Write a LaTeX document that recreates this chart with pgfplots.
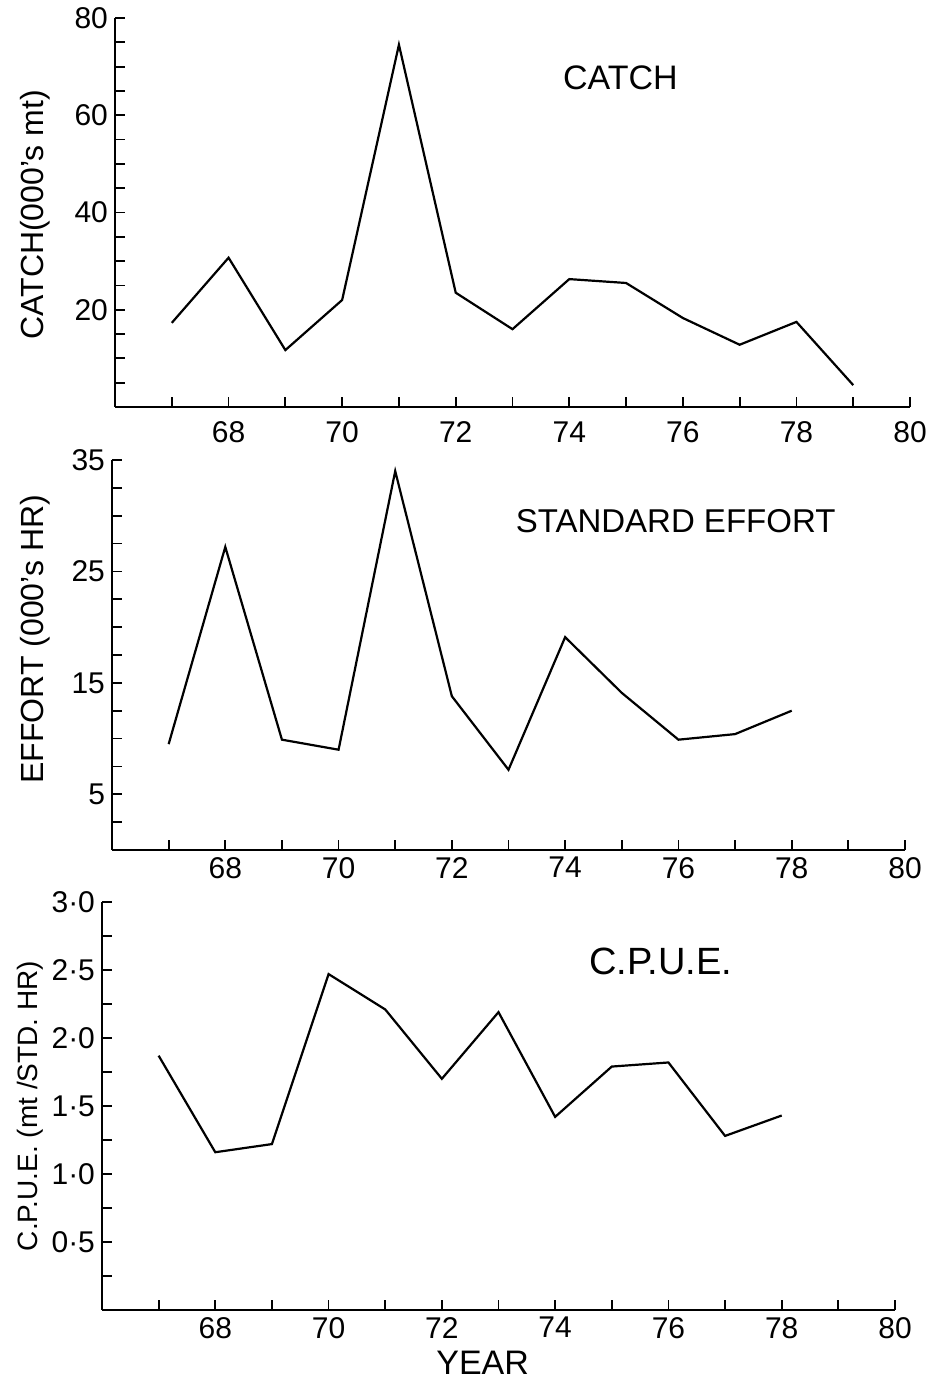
\documentclass[border=0pt]{standalone}
\usepackage{pgfplots}
\pgfplotsset{compat=1.18}
\usepackage{fontspec}
\setmainfont{Liberation Sans}
\pgfplotsset{
  panel/.style={
    scale only axis,
    anchor=south west,
    axis lines=left,
    axis line style={-, line width=1.1pt},
    xmin=66, xmax=80,
    xtick={68,70,...,80},
    minor xtick={67,69,...,79},
    tick align=inside,
    major tick length=5pt,
    minor tick length=5pt,
    every tick/.style={black, line width=0.9pt},
    /pgf/number format/assume math mode=true,
    ticklabel style={font=\fontsize{15}{17}\selectfont},
    label style={font=\fontsize{16}{18}\selectfont},
    clip=false,
  },
  curve/.style={black, line width=1.1pt, mark=none},
}
\begin{document}
\begin{tikzpicture}
\path (0pt,0pt) rectangle (467pt,692.5pt);

% ---- CATCH ----
\begin{axis}[panel,
  at={(57.5pt,489pt)}, width=397.5pt, height=194.5pt,
  ymin=0, ymax=80,
  ytick={20,40,60,80},
  minor ytick={5,10,...,75},
  ylabel={CATCH(000's mt)},
  ylabel style={at={(axis description cs:-0.10,0.494)}, anchor=center, rotate=0},
  xticklabel style={yshift=-4pt},
]
\addplot[curve] coordinates {
(67,17.3) (68,30.7) (69,11.7) (70,22) (71,74.5) (72,23.5) (73,16)
(74,26.3) (75,25.5) (76,18.3) (77,12.8) (78,17.5) (79,4.5)};
\node[font=\fontsize{17}{19}\selectfont] at (axis cs:74.9,67.7) {CATCH};
\end{axis}

% ---- EFFORT ----
\begin{axis}[panel,
  at={(56pt,267.5pt)}, width=396.5pt, height=195pt,
  ymin=0, ymax=35,
  ytick={5,15,25,35},
  minor ytick={2.5,7.5,...,32.5,10,20,30},
  ylabel={EFFORT (000's HR)},
  ylabel style={at={(axis description cs:-0.097,0.54)}, anchor=center, rotate=0},
]
\addplot[curve] coordinates {
(67,9.5) (68,27.2) (69,9.9) (70,9.0) (71,34) (72,13.8) (73,7.2)
(74,19.1) (75,14.1) (76,9.9) (77,10.4) (78,12.5)};
\node[font=\fontsize{16.5}{18}\selectfont] at (axis cs:75.95,29.5) {STANDARD EFFORT};
\end{axis}

% ---- CPUE ----
\begin{axis}[panel,
  at={(51pt,37.5pt)}, width=396.5pt, height=204pt,
  ymin=0, ymax=3.0,
  ytick={0.5,1.0,1.5,2.0,2.5,3.0},
  yticklabels={0·5,1·0,1·5,2·0,2·5,3·0},
  minor ytick={0.25,0.75,...,2.75},
  ylabel={C.P.U.E. (mt /STD. HR)},
  ylabel style={at={(axis description cs:-0.091,0.50)}, anchor=center, rotate=0, font=\fontsize{14}{16}\selectfont},
  xlabel={YEAR},
  xlabel style={at={(axis description cs:0.48,-0.13)}, anchor=center, font=\fontsize{17}{19}\selectfont},
]
\addplot[curve] coordinates {
(67,1.87) (68,1.16) (69,1.22) (70,2.47) (71,2.21) (72,1.70) (73,2.19)
(74,1.42) (75,1.79) (76,1.82) (77,1.28) (78,1.43)};
\node[font=\fontsize{19}{21}\selectfont] at (axis cs:75.86,2.56) {C.P.U.E.};
\end{axis}
\end{tikzpicture}
\end{document}
